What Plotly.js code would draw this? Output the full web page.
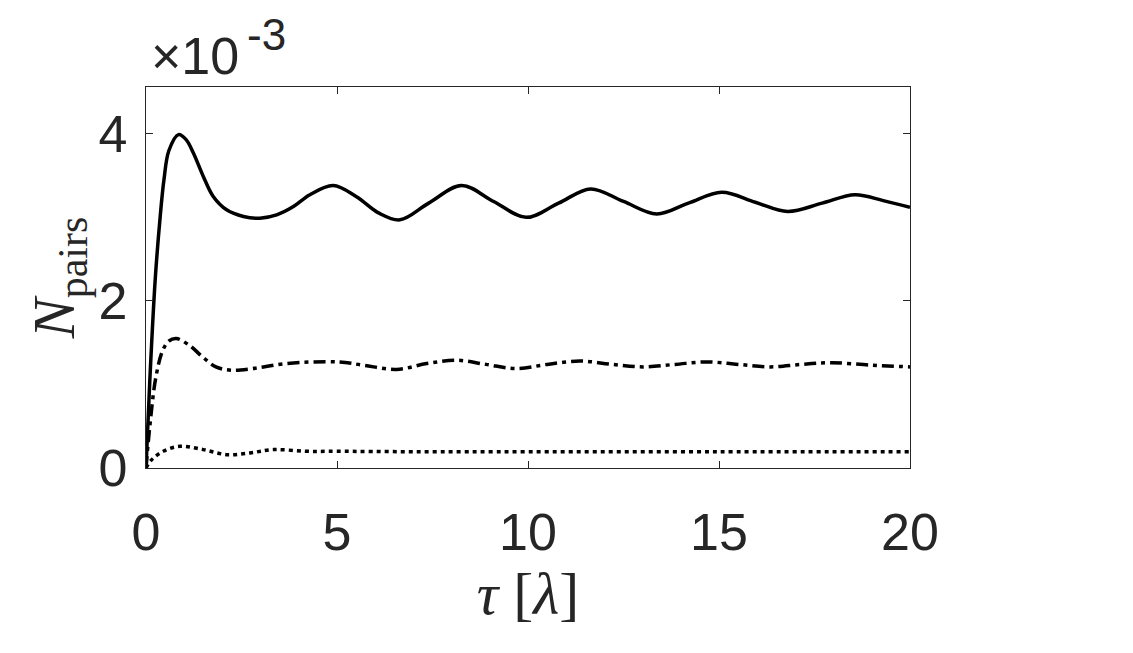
<!DOCTYPE html>
<html>
<head>
<meta charset="utf-8">
<script src="https://cdn.plot.ly/plotly-3.0.1.min.js"></script>
<style>html,body{margin:0;padding:0;background:#fff;}#chart{width:1133px;height:653px;}</style>
</head>
<body>
<div id="chart"></div>
<script>
// Values in units of 1e-3
const tauSolid = [0, 0.1, 0.24, 0.37, 0.47, 0.6, 0.85, 1.05, 1.24, 1.5, 1.76, 2.11, 2.55, 2.98, 3.42, 3.86, 4.29, 4.9, 5.5, 6.1, 6.65, 7.4, 8.26, 9.1, 9.95, 10.8, 11.64, 12.5, 13.37, 14.2, 15.07, 15.95, 16.8, 17.7, 18.56, 19.3, 20];
const nSolid   = [0, 1.05, 2.25, 3.0, 3.45, 3.8, 3.99, 3.93, 3.77, 3.49, 3.25, 3.09, 3.01, 2.99, 3.03, 3.13, 3.27, 3.38, 3.25, 3.05, 2.97, 3.17, 3.38, 3.19, 3.00, 3.17, 3.34, 3.19, 3.04, 3.17, 3.30, 3.18, 3.07, 3.17, 3.27, 3.20, 3.12];

const tauDashDot = [0, 0.1, 0.26, 0.44, 0.6, 0.79, 1.13, 1.48, 1.83, 2.23, 2.79, 3.66, 5.05, 5.69, 6.56, 7.35, 8.13, 8.9, 9.7, 10.5, 11.36, 12.2, 13.02, 13.85, 14.68, 15.5, 16.34, 17.15, 17.95, 19.0, 20];
const nDashDot   = [0, 0.5, 1.09, 1.41, 1.52, 1.55, 1.47, 1.33, 1.21, 1.17, 1.19, 1.25, 1.27, 1.23, 1.18, 1.25, 1.29, 1.24, 1.19, 1.24, 1.28, 1.24, 1.21, 1.24, 1.27, 1.24, 1.21, 1.24, 1.26, 1.23, 1.21];

const tauDot = [0, 0.15, 0.45, 0.89, 1.5, 2.11, 2.72, 3.33, 4.2, 5.0, 7.0, 10.0, 15.0, 20.0];
const nDot   = [0, 0.10, 0.20, 0.26, 0.22, 0.16, 0.18, 0.22, 0.20, 0.20, 0.195, 0.195, 0.195, 0.195];

const xTicks = [0, 5, 10, 15, 20];
const yTicks = [0, 2, 4];
const yTickText = ["0", "2", "4"];

const axisColor = "#262626";
const tickFont = {family: "Liberation Sans, Arial, sans-serif", size: 52, color: axisColor};

const traces = [
  {x: tauSolid, y: nSolid, mode: "lines", line: {color: "#000", width: 3.5, shape: "spline", smoothing: 1}},
  {x: tauDashDot, y: nDashDot, mode: "lines", line: {color: "#000", width: 3.5, dash: "12px,5px,4px,5px", shape: "spline", smoothing: 1}},
  {x: tauDot, y: nDot, mode: "lines", line: {color: "#000", width: 3.5, dash: "4px,4px", shape: "spline", smoothing: 1}}
];

const layout = {
  width: 1133, height: 653,
  margin: {l: 146, r: 223, t: 87, b: 185, pad: 0},
  paper_bgcolor: "#fff", plot_bgcolor: "#fff",
  showlegend: false,
  xaxis: {
    range: [0, 20], tickvals: xTicks, ticks: "inside", ticklen: 7, tickcolor: axisColor, tickwidth: 1,
    showline: true, linecolor: axisColor, linewidth: 1.2, mirror: "ticks", showgrid: false, zeroline: false,
    tickfont: tickFont, ticklabelstandoff: 18,
    title: {text: "<i>τ</i> [<i>λ</i>]", font: {family: "Liberation Serif, Times New Roman, serif", size: 60, color: axisColor}, standoff: 12}
  },
  yaxis: {
    range: [0, 4.56], tickvals: yTicks, ticktext: yTickText, ticks: "inside", ticklen: 7, tickcolor: axisColor, tickwidth: 1,
    showline: true, linecolor: axisColor, linewidth: 1.2, mirror: "ticks", showgrid: false, zeroline: false,
    tickfont: tickFont, ticklabelstandoff: 7,
    title: {text: "<i>N</i><sub>pairs</sub>", font: {family: "Liberation Serif, Times New Roman, serif", size: 60, color: axisColor}, standoff: 4}
  },
  annotations: [
    {xref: "paper", yref: "paper", x: 0.004, y: 1.081, xanchor: "left", yanchor: "middle", showarrow: false,
     text: "×10", font: {family: "Liberation Sans, Arial, sans-serif", size: 52, color: axisColor}},
    {xref: "paper", yref: "paper", x: 0.129, y: 1.139, xanchor: "left", yanchor: "middle", showarrow: false,
     text: "-3", font: {family: "Liberation Sans, Arial, sans-serif", size: 44, color: axisColor}}
  ]
};

Plotly.newPlot("chart", traces, layout, {staticPlot: true, displayModeBar: false});
</script>
</body>
</html>
